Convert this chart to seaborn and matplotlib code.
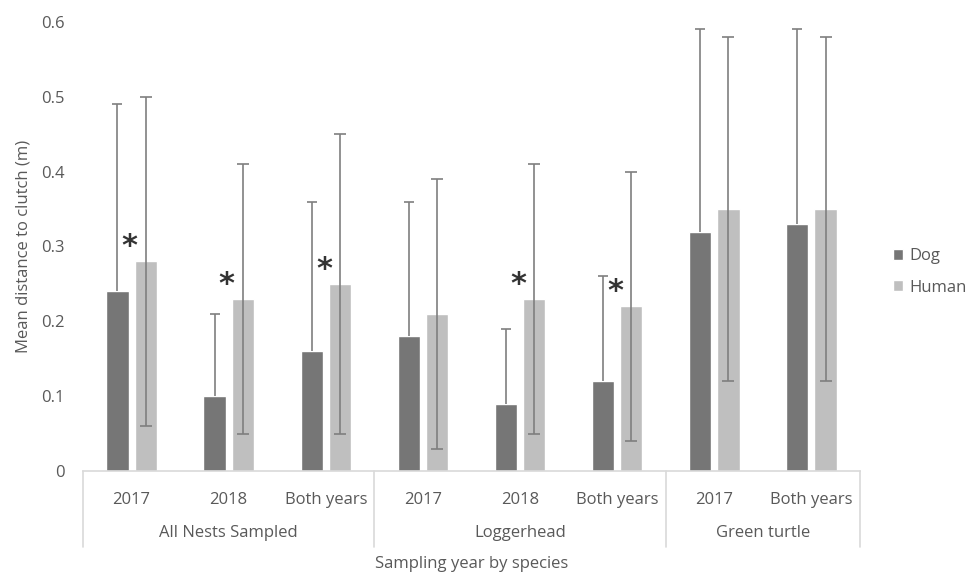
import pandas as pd
import matplotlib
matplotlib.use("Agg")
import matplotlib.pyplot as plt
from matplotlib.patches import Patch
import seaborn as sns

# data
groups = ["All Nests Sampled", "All Nests Sampled", "All Nests Sampled",
          "Loggerhead", "Loggerhead", "Loggerhead",
          "Green turtle", "Green turtle"]
years = ["2017", "2018", "Both years", "2017", "2018", "Both years", "2017", "Both years"]
dog_mean = [0.24, 0.10, 0.16, 0.18, 0.09, 0.12, 0.32, 0.33]
dog_err = [0.25, 0.11, 0.20, 0.18, 0.10, 0.14, 0.27, 0.26]
human_mean = [0.28, 0.23, 0.25, 0.21, 0.23, 0.22, 0.35, 0.35]
human_err = [0.22, 0.18, 0.20, 0.18, 0.18, 0.18, 0.23, 0.23]
signif = [True, True, True, False, True, True, False, False]

keys = [g + "|" + y for g, y in zip(groups, years)]
df = pd.DataFrame({
    "key": keys * 2,
    "value": dog_mean + human_mean,
    "who": ["Dog"] * len(keys) + ["Human"] * len(keys),
})

dog_col = "#767676"
human_col = "#bfbfbf"
err_col = "#7f7f7f"
txt_col = "#595959"

sns.set_style("white")
plt.rcParams["font.family"] = ["Open Sans", "DejaVu Sans"]

fig = plt.figure(figsize=(9.79, 5.76), dpi=100)
ax = fig.add_axes([83 / 979, 1 - 471 / 576, 777 / 979, 449 / 576])

sns.barplot(data=df, x="key", y="value", hue="who", order=keys,
            palette={"Dog": dog_col, "Human": human_col},
            width=0.58, gap=0.21, errorbar=None, legend=False, ax=ax)

# error bars: dog plus only, human both directions
dog_x = [p.get_x() + p.get_width() / 2 for p in ax.containers[0]]
hum_x = [p.get_x() + p.get_width() / 2 for p in ax.containers[1]]
dog_top = [m + e for m, e in zip(dog_mean, dog_err)]
ax.vlines(dog_x, dog_mean, dog_top, color=err_col, lw=1.2)
ax.scatter(dog_x, dog_top, marker="_", s=45, color=err_col, linewidths=1.2)
ax.errorbar(hum_x, human_mean, yerr=human_err, fmt="none",
            ecolor=err_col, elinewidth=1.2, capsize=4, capthick=1.2)

# significance asterisks
for i, s in enumerate(signif):
    if s:
        ax.text(i - 0.02, human_mean[i] + 0.0, "*", ha="center", va="bottom",
                fontsize=22, fontweight="bold", color="#333333", family="DejaVu Sans")

ax.set_xlim(-0.5, len(keys) - 0.5)
ax.set_ylim(0, 0.6)
ax.set_yticks([0, 0.1, 0.2, 0.3, 0.4, 0.5, 0.6])
ax.set_yticklabels(["0", "0.1", "0.2", "0.3", "0.4", "0.5", "0.6"])
ax.set_xticks(range(len(keys)))
ax.set_xticklabels(years)
ax.tick_params(axis="both", length=0, labelsize=12, colors=txt_col)
ax.tick_params(axis="y", pad=13)
ax.tick_params(axis="x", pad=15)

for side in ["top", "right", "left"]:
    ax.spines[side].set_visible(False)
ax.spines["bottom"].set_color("#d9d9d9")
ax.spines["bottom"].set_linewidth(1.2)

# grouped category axis: separators and group names
tr = ax.get_xaxis_transform()
bounds = [-0.5, 2.5, 5.5, 7.5]
for b in bounds:
    ax.plot([b, b], [0, -0.169], transform=tr, color="#d9d9d9", lw=1.2, clip_on=False)
for g, c in [("All Nests Sampled", 1), ("Loggerhead", 4), ("Green turtle", 6.5)]:
    ax.text(c, -0.138, g, transform=tr, ha="center", va="center", fontsize=12, color=txt_col)

ax.set_xlabel("Sampling year by species", fontsize=12, color=txt_col)
ax.xaxis.set_label_coords(0.5, -0.19)
ax.set_ylabel("Mean distance to clutch (m)", fontsize=12, color=txt_col)
ax.yaxis.set_label_coords(-0.066, 0.5)

handles = [Patch(facecolor=dog_col, label="Dog"), Patch(facecolor=human_col, label="Human")]
leg = fig.legend(handles=handles, loc="center left", bbox_to_anchor=(878 / 979, 1 - 272 / 576),
                 frameon=False, handlelength=0.6, handleheight=0.6, handletextpad=0.4,
                 labelspacing=0.9, fontsize=12)
for t in leg.get_texts():
    t.set_color(txt_col)

fig.savefig("out.png", dpi=100, facecolor="white")
